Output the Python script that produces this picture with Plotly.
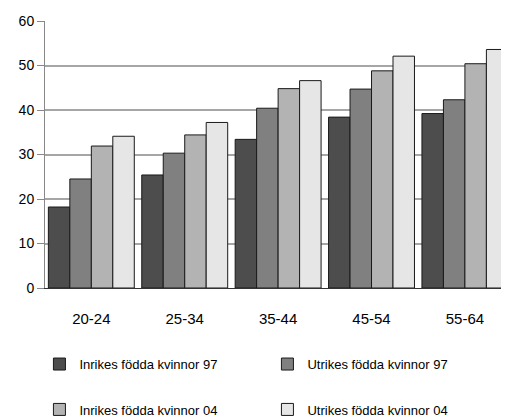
import plotly.graph_objects as go

categories = ["20-24", "25-34", "35-44", "45-54", "55-64"]
inrikes_97 = [18.2, 25.4, 33.4, 38.4, 39.2]
utrikes_97 = [24.5, 30.3, 40.4, 44.7, 42.3]
inrikes_04 = [31.9, 34.4, 44.8, 48.8, 50.4]
utrikes_04 = [34.1, 37.2, 46.6, 52.1, 53.6]

series = [
    ("Inrikes födda kvinnor 97", inrikes_97, "#4d4d4d", "legend"),
    ("Utrikes födda kvinnor 97", utrikes_97, "#808080", "legend"),
    ("Inrikes födda kvinnor 04", inrikes_04, "#b3b3b3", "legend2"),
    ("Utrikes födda kvinnor 04", utrikes_04, "#e6e6e6", "legend2"),
]

FONT = "Liberation Sans, Arial, sans-serif"

fig = go.Figure()
for name, vals, color, lg in series:
    fig.add_trace(go.Bar(
        x=categories, y=vals, name=name, legend=lg,
        marker=dict(color=color, line=dict(color="#1a1a1a", width=1)),
    ))

legend_common = dict(
    orientation="h", x=-0.012, xanchor="left", yanchor="middle",
    entrywidth=183, entrywidthmode="pixels",
    font=dict(family=FONT, size=13, color="#000"),
    bgcolor="rgba(0,0,0,0)", itemclick=False,
)

fig.update_layout(
    width=501, height=411,
    margin=dict(l=37, r=0, t=13, b=131, autoexpand=False),
    paper_bgcolor="white", plot_bgcolor="white",
    barmode="group", bargap=0.08, bargroupgap=0,
    font=dict(family=FONT, color="#000"),
    showlegend=True,
    legend=dict(legend_common, y=-0.285),
    legend2=dict(legend_common, y=-0.455),
    xaxis=dict(
        range=[-0.496, 4.472], showgrid=False,
        showline=True, linecolor="#333", linewidth=1,
        ticks="", tickfont=dict(family=FONT, size=15, color="#000"),
        ticklabelstandoff=17,
    ),
    yaxis=dict(
        range=[0, 60], dtick=10, showgrid=True, gridcolor="#a6a6a6", gridwidth=1.5,
        zeroline=False, showline=True, linecolor="#888", linewidth=1,
        ticks="outside", ticklen=7, tickcolor="#888",
        tickfont=dict(family=FONT, size=14, color="#000"),
    ),
)

fig.write_html("out.html")
